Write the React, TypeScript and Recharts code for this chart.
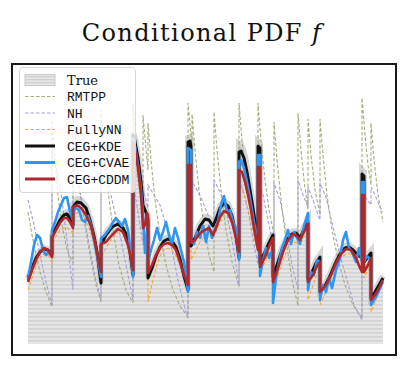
import React from "react";
import { ComposedChart, Line, Area, XAxis, YAxis } from "recharts";

// time t (arbitrary units), conditional density value v
type P = [number, number];

const trueCurve: P[] = [
  [0,0.66],[0.4,0.77],[0.8,0.87],[1.2,0.93],[1.6,0.96],[2.0,0.95],[2.4,0.91],
  [2.4,1.09],[2.8,1.18],[3.2,1.26],[3.6,1.31],[3.9,1.32],[4.2,1.28],[4.5,1.21],
  [4.5,1.40],[4.9,1.45],[5.3,1.44],[5.8,1.38],[6.2,1.26],[6.6,1.10],[6.9,0.94],[7.3,0.62],
  [7.3,1.01],[7.8,1.11],[8.4,1.19],[9.0,1.22],[9.5,1.18],[9.9,1.10],[10.2,0.94],[10.5,0.70],
  [10.5,2.12],[10.7,2.05],[11.0,1.89],[11.3,1.65],[11.5,1.42],[11.7,1.36],[11.9,1.31],[12.0,1.26],
  [12.0,0.67],[12.4,0.78],[12.8,0.90],[13.2,0.99],[13.6,1.05],[14.0,1.07],[14.4,1.05],[14.8,0.99],[15.2,0.87],[15.6,0.70],[16.0,0.55],
  [16.0,2.06],[16.2,2.07],[16.3,2.02],
  [16.3,1.00],[16.7,1.08],[17.2,1.20],[17.7,1.27],[18.1,1.26],[18.5,1.20],
  [18.8,1.27],[19.2,1.38],[19.6,1.43],[20.0,1.40],[20.4,1.30],[20.8,1.11],[21.1,0.88],
  [21.1,2.01],[21.3,2.00],[21.6,1.92],[21.9,1.77],[22.2,1.58],[22.5,1.39],[22.8,1.19],[23.0,1.08],
  [23.0,2.02],[23.2,2.00],
  [23.2,0.84],[23.6,0.92],[24.0,1.01],[24.5,1.11],
  [24.5,0.69],[24.9,0.81],[25.4,0.96],[25.9,1.06],[26.4,1.12],[26.8,1.13],[27.2,1.08],[27.6,1.17],[28.0,1.24],
  [28.0,0.66],[28.4,0.74],[28.8,0.83],[29.2,0.89],
  [29.2,0.54],[29.7,0.60],[30.2,0.70],[30.7,0.82],[31.2,0.92],[31.7,0.98],[32.1,0.99],[32.5,0.96],[33.0,0.91],[33.4,0.88],
  [33.4,1.74],[33.6,1.72],
  [33.6,0.84],[33.9,0.88],[34.3,0.93],
  [34.3,0.48],[34.7,0.54],[35.1,0.61],[35.5,0.68],
];

const rmtpp: P[] = [
  [0,1.32],[0.4,1.09],[0.8,0.89],[1.2,0.72],[1.8,0.52],[2.4,0.37],
  [2.4,2.24],[2.7,1.84],[3.0,1.49],[3.4,1.19],[3.9,0.94],[4.5,0.81],
  [4.5,2.34],[4.8,1.94],[5.2,1.54],[5.7,1.19],[6.2,0.89],[6.8,0.59],[7.3,0.42],
  [7.3,2.34],[7.6,1.94],[8.0,1.54],[8.5,1.14],[9.1,0.79],[9.8,0.54],[10.5,0.41],
  [10.5,2.41],[10.8,2.04],[11.1,1.69],[11.5,1.39],
  [11.5,2.29],[11.8,1.94],[12.0,1.74],
  [12.0,2.21],[12.3,1.84],[12.7,1.44],[13.2,1.09],[13.8,0.79],[14.5,0.54],[15.2,0.38],[16.0,0.27],
  [16.0,2.41],[16.2,2.19],[16.4,1.99],
  [16.4,2.30],[16.7,1.94],[17.1,1.54],[17.6,1.19],[18.1,0.89],[18.6,0.72],
  [18.6,2.32],[18.9,1.94],[19.3,1.54],[19.8,1.14],[20.4,0.82],[21.1,0.57],
  [21.1,2.41],[21.4,2.04],[21.8,1.64],[22.3,1.29],[22.7,1.09],[23.0,0.99],
  [23.0,2.41],[23.3,2.04],[23.7,1.64],[24.1,1.34],[24.6,1.09],
  [24.6,2.22],[24.9,1.84],[25.3,1.44],[25.8,1.04],[26.4,0.64],[27.0,0.38],
  [27.0,2.31],[27.3,1.94],[27.6,1.64],[28.0,1.34],
  [28.0,2.25],[28.3,1.89],[28.7,1.54],[29.2,1.29],
  [29.2,2.25],[29.5,1.89],[29.9,1.49],[30.4,1.14],[31.0,0.84],[31.7,0.59],[32.5,0.39],[33.4,0.26],
  [33.4,2.46],[33.7,2.09],[34.0,1.79],[34.3,1.59],
  [34.3,2.21],[34.6,1.84],[35.0,1.49],[35.5,1.22],
];

const nh: P[] = [
  [0,1.44],[0.6,1.19],[1.2,0.89],[1.8,0.62],[2.4,0.39],
  [2.4,1.94],[2.8,1.79],[3.4,1.44],[3.9,1.04],[4.5,0.54],
  [4.5,1.79],[5.0,1.59],[5.6,1.29],[6.2,0.94],[6.8,0.64],[7.3,0.44],
  [7.3,1.94],[7.8,1.74],[8.4,1.44],[9.2,1.09],[9.9,0.74],[10.5,0.44],
  [10.5,1.59],[10.8,1.44],[11.2,1.19],[11.5,0.99],
  [11.5,1.54],[11.8,1.44],[12.0,1.36],
  [12.0,1.59],[12.6,1.49],[13.2,1.39],[13.8,1.19],[14.4,0.94],[15.0,0.64],[15.6,0.39],[16.0,0.26],
  [16.0,1.69],[16.3,1.59],
  [16.3,1.64],[16.8,1.56],[17.4,1.44],[18.0,1.29],[18.6,1.09],
  [18.6,1.64],[19.2,1.52],[19.8,1.34],[20.4,1.04],[20.8,0.79],[21.1,0.59],
  [21.1,1.64],[21.5,1.54],[22.0,1.34],[22.5,1.04],[23.0,0.79],
  [23.0,1.64],[23.5,1.49],[24.0,1.24],[24.6,0.94],
  [24.6,1.61],[25.2,1.44],[25.8,1.14],[26.4,0.79],[27.0,0.54],
  [27.0,1.64],[27.5,1.49],[28.0,1.37],
  [28.0,1.57],[28.5,1.44],[28.9,1.32],[29.2,1.24],
  [29.2,1.61],[29.8,1.47],[30.5,1.17],[31.2,0.89],[31.9,0.64],[32.6,0.39],[33.4,0.24],
  [33.4,1.52],[33.8,1.46],[34.3,1.39],
  [34.3,1.57],[34.7,1.49],[35.2,1.37],[35.5,1.32],
];

const fullyNN: P[] = [
  [0,0.54],[0.4,0.66],[0.8,0.78],[1.2,0.86],[1.6,0.90],[2.0,0.89],[2.4,0.82],
  [2.4,0.99],[2.8,1.08],[3.2,1.14],[3.6,1.16],[4.0,1.16],[4.4,1.12],[4.5,1.09],
  [4.5,1.29],[5.0,1.32],[5.5,1.28],[6.0,1.19],[6.5,1.04],[6.9,0.86],[7.3,0.59],
  [7.3,0.86],[7.8,0.96],[8.4,1.06],[9.0,1.12],[9.5,1.11],[10.0,0.99],[10.5,0.82],
  [10.5,1.84],[10.8,1.74],[11.1,1.59],[11.4,1.39],[11.7,1.19],[12.0,1.09],
  [12.0,0.42],[12.4,0.60],[12.8,0.76],[13.2,0.88],[13.6,0.94],[14.0,0.96],[14.4,0.94],[14.8,0.88],[15.2,0.79],[15.6,0.68],[16.0,0.56],
  [16.0,1.69],[16.3,1.66],
  [16.3,0.84],[16.7,0.92],[17.2,1.02],[17.7,1.08],[18.1,1.10],[18.5,1.06],
  [18.8,1.12],[19.2,1.22],[19.6,1.29],[20.0,1.28],[20.4,1.19],[20.8,1.04],[21.1,0.90],
  [21.1,1.59],[21.4,1.56],[21.7,1.46],[22.0,1.34],[22.3,1.22],[22.6,1.06],[23.0,0.92],
  [23.0,1.64],[23.2,1.62],
  [23.2,0.72],[23.7,0.82],[24.2,0.94],[24.5,0.99],
  [24.5,0.54],[25.0,0.69],[25.5,0.84],[26.0,0.96],[26.5,1.02],[27.0,1.01],[27.5,1.06],[28.0,1.12],
  [28.0,0.44],[28.5,0.59],[28.9,0.70],[29.2,0.74],
  [29.2,0.39],[29.8,0.52],[30.3,0.64],[30.8,0.76],[31.3,0.86],[31.8,0.90],[32.3,0.90],[32.8,0.84],[33.2,0.76],[33.4,0.72],
  [33.4,1.34],[33.6,1.34],
  [33.6,0.66],[34.0,0.74],[34.3,0.79],
  [34.3,0.32],[34.7,0.42],[35.1,0.52],[35.5,0.59],
];

const cegKDE: P[] = [
  [0,0.66],[0.4,0.76],[0.8,0.86],[1.2,0.92],[1.6,0.95],[2.0,0.94],[2.4,0.90],
  [2.4,1.08],[2.8,1.16],[3.2,1.24],[3.6,1.29],[3.9,1.30],[4.2,1.26],[4.5,1.19],
  [4.5,1.37],[4.9,1.42],[5.3,1.41],[5.8,1.36],[6.2,1.24],[6.6,1.08],[6.9,0.92],[7.3,0.61],
  [7.3,0.99],[7.8,1.09],[8.4,1.17],[9.0,1.20],[9.5,1.16],[9.9,1.08],[10.2,0.92],[10.5,0.69],
  [10.5,2.09],[10.7,2.02],[11.0,1.86],[11.3,1.62],[11.5,1.39],[11.7,1.34],[11.9,1.29],[12.0,1.24],
  [12.0,0.66],[12.4,0.76],[12.8,0.88],[13.2,0.97],[13.6,1.03],[14.0,1.05],[14.4,1.03],[14.8,0.97],[15.2,0.85],[15.6,0.68],[16.0,0.54],
  [16.0,2.02],[16.2,2.03],[16.3,1.98],
  [16.3,0.98],[16.7,1.06],[17.2,1.18],[17.7,1.25],[18.1,1.24],[18.5,1.18],
  [18.8,1.25],[19.2,1.36],[19.6,1.41],[20.0,1.38],[20.4,1.28],[20.8,1.09],[21.1,0.86],
  [21.1,1.92],[21.3,1.93],[21.6,1.86],[21.9,1.72],[22.2,1.54],[22.5,1.36],[22.8,1.16],[23.0,1.06],
  [23.0,1.98],[23.2,1.96],
  [23.2,0.82],[23.6,0.90],[24.0,0.99],[24.5,1.09],
  [24.5,0.67],[24.9,0.79],[25.4,0.94],[25.9,1.04],[26.4,1.10],[26.8,1.11],[27.2,1.06],[27.6,1.15],[28.0,1.22],
  [28.0,0.64],[28.4,0.72],[28.8,0.81],[29.2,0.87],
  [29.2,0.52],[29.7,0.58],[30.2,0.68],[30.7,0.80],[31.2,0.90],[31.7,0.96],[32.1,0.97],[32.5,0.94],[33.0,0.89],[33.4,0.86],
  [33.4,1.70],[33.6,1.68],
  [33.6,0.82],[33.9,0.86],[34.3,0.91],
  [34.3,0.46],[34.7,0.52],[35.1,0.59],[35.5,0.66],
];

const cegCVAE: P[] = [
  [0,0.64],[0.3,0.82],[0.6,0.99],[0.9,1.09],[1.2,1.06],[1.5,0.94],[1.8,0.89],[2.1,0.92],[2.4,0.88],
  [2.4,1.14],[2.7,1.22],[3.0,1.32],[3.3,1.39],[3.6,1.46],[3.9,1.47],[4.2,1.32],[4.5,1.24],
  [4.5,1.32],[4.8,1.36],[5.1,1.34],[5.4,1.24],[5.7,1.22],[6.0,1.28],[6.3,1.19],[6.6,1.04],[6.9,0.89],[7.3,0.67],
  [7.3,1.06],[7.6,1.08],[7.9,1.12],[8.2,1.16],[8.5,1.22],[8.8,1.26],[9.1,1.22],[9.4,1.18],[9.7,1.25],[10.0,1.14],[10.3,0.89],[10.5,0.67],
  [10.5,2.06],[10.7,1.98],[11.0,1.79],[11.3,1.54],[11.5,1.29],[11.7,0.91],[11.9,1.12],[12.0,1.14],
  [12.0,0.82],[12.3,0.94],[12.6,1.04],[12.9,1.16],[13.2,1.04],[13.5,1.12],[13.8,1.22],[14.1,1.09],[14.4,1.00],[14.7,1.16],[15.0,1.06],[15.3,0.94],[15.6,0.82],[16.0,0.52],
  [16.0,1.96],[16.3,1.94],
  [16.3,1.04],[16.6,1.00],[16.9,1.12],[17.2,1.06],[17.5,1.18],[17.8,1.02],[18.1,1.18],[18.4,1.06],[18.7,1.14],
  [19.0,1.22],[19.3,1.39],[19.6,1.48],[19.9,1.32],[20.2,1.34],[20.5,1.22],[20.8,1.16],[21.1,0.84],
  [21.1,1.82],[21.3,1.84],[21.6,1.76],[21.9,1.62],[22.2,1.46],[22.5,1.28],[22.8,1.10],[23.0,0.99],
  [23.0,1.89],[23.2,1.89],
  [23.2,0.68],[23.5,0.84],[23.8,0.96],[24.1,0.86],[24.3,0.92],[24.5,0.92],
  [24.5,0.41],[24.8,0.66],[25.1,0.82],[25.4,0.96],[25.7,1.04],[26.0,1.14],[26.3,1.00],[26.6,1.12],[26.9,1.06],[27.2,1.00],[27.6,1.18],[28.0,1.31],
  [28.0,0.54],[28.3,0.72],[28.6,0.69],[28.9,0.84],[29.2,0.82],
  [29.2,0.44],[29.5,0.59],[29.8,0.52],[30.1,0.66],[30.4,0.56],[30.8,0.74],[31.2,0.86],[31.5,1.04],[31.8,1.12],[32.1,0.96],[32.4,0.92],[32.8,0.82],[33.1,0.96],[33.4,0.82],
  [33.4,1.62],[33.6,1.62],
  [33.6,0.82],[33.9,0.88],[34.3,0.84],
  [34.3,0.39],[34.6,0.44],[34.9,0.49],[35.2,0.56],[35.5,0.62],
];

const cegCDDM: P[] = [
  [0,0.62],[0.4,0.74],[0.8,0.84],[1.2,0.92],[1.6,0.96],[2.0,0.94],[2.4,0.87],
  [2.4,1.06],[2.8,1.14],[3.2,1.21],[3.6,1.26],[3.9,1.26],[4.2,1.22],[4.5,1.16],
  [4.5,1.37],[4.9,1.39],[5.3,1.36],[5.8,1.29],[6.3,1.18],[6.7,1.02],[7.0,0.86],[7.3,0.72],
  [7.3,1.00],[7.8,1.02],[8.4,1.09],[9.0,1.15],[9.5,1.12],[10.0,0.99],[10.3,0.86],[10.5,0.74],
  [10.5,2.02],[10.7,1.94],[11.0,1.76],[11.3,1.49],[11.5,1.16],[11.7,1.19],[11.9,1.31],[12.0,1.29],
  [12.0,0.71],[12.4,0.79],[12.8,0.89],[13.2,0.96],[13.6,1.00],[14.0,1.01],[14.4,0.99],[14.8,0.94],[15.2,0.82],[15.6,0.69],[16.0,0.59],
  [16.0,1.79],[16.3,1.79],
  [16.3,1.01],[16.7,1.04],[17.2,1.11],[17.7,1.14],[18.1,1.16],[18.5,1.09],
  [18.8,1.16],[19.2,1.27],[19.6,1.33],[20.0,1.31],[20.4,1.22],[20.8,1.06],[21.1,0.92],
  [21.1,1.74],[21.4,1.72],[21.7,1.62],[22.0,1.49],[22.3,1.34],[22.6,1.16],[22.9,0.99],[23.0,0.94],
  [23.0,1.77],[23.2,1.77],
  [23.2,0.77],[23.7,0.87],[24.2,1.00],[24.5,1.06],
  [24.5,0.62],[25.0,0.76],[25.5,0.92],[26.0,1.04],[26.5,1.10],[26.9,1.08],[27.2,1.04],[27.6,1.12],[28.0,1.20],
  [28.0,0.62],[28.5,0.69],[28.9,0.78],[29.2,0.82],
  [29.2,0.52],[29.8,0.59],[30.3,0.69],[30.8,0.81],[31.3,0.90],[31.8,0.95],[32.3,0.94],[32.8,0.86],[33.2,0.76],[33.4,0.72],
  [33.4,1.49],[33.6,1.49],
  [33.6,0.72],[34.0,0.79],[34.3,0.86],
  [34.3,0.44],[34.7,0.49],[35.1,0.56],[35.5,0.64],
];

const seriesNames = ["True", "RMTPP", "NH", "FullyNN", "CEG+KDE", "CEG+CVAE", "CEG+CDDM"];
const titleText = "Conditional PDF ";
const titleItalic = "f";

const X_DOMAIN: [number, number] = [-1.7, 36.9];
const Y_DOMAIN: [number, number] = [-0.12, 2.81];

const toPts = (arr: P[]) => arr.map(([t, v]) => ({ t, v }));

const C = {
  rmtpp: "#9fae78",
  nh: "#a79ce0",
  fully: "#f3a443",
  kde: "#111111",
  cvae: "#2e95f0",
  cddm: "#b0282c",
};

const dashed = [
  { name: seriesNames[1], data: rmtpp, color: C.rmtpp },
  { name: seriesNames[2], data: nh, color: C.nh },
  { name: seriesNames[3], data: fullyNN, color: C.fully },
];
const solid = [
  { name: seriesNames[4], data: cegKDE, color: C.kde, w: 3 },
  { name: seriesNames[5], data: cegCVAE, color: C.cvae, w: 2.6 },
  { name: seriesNames[6], data: cegCDDM, color: C.cddm, w: 2.6 },
];

function LegendBox() {
  const rows = [
    { label: seriesNames[0], kind: "true" },
    { label: seriesNames[1], kind: "dash", color: C.rmtpp },
    { label: seriesNames[2], kind: "dash", color: C.nh },
    { label: seriesNames[3], kind: "dash", color: C.fully },
    { label: seriesNames[4], kind: "solid", color: C.kde, w: 3 },
    { label: seriesNames[5], kind: "solid", color: C.cvae, w: 3 },
    { label: seriesNames[6], kind: "solid", color: C.cddm, w: 3 },
  ];
  return (
    <div
      style={{
        position: "absolute",
        left: 11,
        top: 59,
        width: 117,
        height: 126,
        border: "1px solid #d6d6d6",
        borderRadius: 4,
        background: "rgba(255,255,255,0.8)",
        boxSizing: "border-box",
      }}
    >
      <svg width={117} height={126} style={{ position: "absolute", left: -1, top: -1 }}>
        <defs>
          <pattern id="hatchL" patternUnits="userSpaceOnUse" width="6" height="3">
            <rect width="6" height="3" fill="#e6e6e6" />
            <rect width="6" height="1.3" fill="#cfcfcf" />
          </pattern>
        </defs>
        {rows.map((r, i) => {
          const cy = 13 + i * 16.5;
          return (
            <g key={r.label}>
              {r.kind === "true" && (
                <rect x={6} y={cy - 5.5} width={30} height={11} fill="url(#hatchL)" stroke="#c9c9c9" strokeWidth={1} />
              )}
              {r.kind === "dash" && (
                <line x1={6} x2={36} y1={cy} y2={cy} stroke={r.color} strokeWidth={1.2} strokeDasharray="3.5 2" />
              )}
              {r.kind === "solid" && (
                <line x1={6} x2={36} y1={cy} y2={cy} stroke={r.color} strokeWidth={r.w} />
              )}
              <text
                x={48}
                y={cy + 4.5}
                fontSize={13}
                fontFamily={r.kind === "true" ? "'DejaVu Serif', serif" : "'Liberation Mono', monospace"}
                fill="#111"
              >
                {r.label}
              </text>
            </g>
          );
        })}
      </svg>
    </div>
  );
}

export default function App() {
  return (
    <div style={{ position: "relative", width: 399, height: 360 }}>
      <div
        style={{
          position: "absolute",
          left: 0,
          top: 13,
          width: 388,
          textAlign: "center",
          fontFamily: "'DejaVu Serif', serif",
          fontSize: 24,
          letterSpacing: 1.4,
          lineHeight: "24px",
          color: "#111",
        }}
      >
        {titleText}
        <i>{titleItalic}</i>
      </div>
      <ComposedChart
        width={399}
        height={360}
        margin={{ top: 55, right: 10, bottom: 12, left: 3 }}
        style={{ position: "absolute", left: 0, top: 0 }}
      >
        <defs>
          <pattern id="hatchTrue" patternUnits="userSpaceOnUse" width="8" height="4">
            <rect width="8" height="4" fill="#e5e5e5" />
            <rect width="8" height="1.6" fill="#d2d2d2" />
          </pattern>
        </defs>
        <XAxis dataKey="t" type="number" domain={X_DOMAIN} allowDataOverflow hide />
        <YAxis type="number" domain={Y_DOMAIN} allowDataOverflow hide />
        <Area
          data={toPts(trueCurve)}
          dataKey="v"
          type="linear"
          baseValue={0}
          fill="url(#hatchTrue)"
          fillOpacity={1}
          stroke="#c4c4c4"
          strokeOpacity={0.7}
          strokeWidth={6}
          isAnimationActive={false}
          dot={false}
          activeDot={false}
        />
        {dashed.map((s) => (
          <Line
            key={s.name}
            data={toPts(s.data)}
            dataKey="v"
            name={s.name}
            type="linear"
            stroke={s.color}
            strokeWidth={1.1}
            strokeDasharray="3.5 2"
            dot={false}
            activeDot={false}
            isAnimationActive={false}
          />
        ))}
        {solid.map((s) => (
          <Line
            key={s.name}
            data={toPts(s.data)}
            dataKey="v"
            name={s.name}
            type="linear"
            stroke={s.color}
            strokeWidth={s.w}
            strokeLinejoin="round"
            dot={false}
            activeDot={false}
            isAnimationActive={false}
          />
        ))}
      </ComposedChart>
      <div
        style={{
          position: "absolute",
          left: 3,
          top: 55,
          width: 386,
          height: 293,
          border: "2px solid #1a1a1a",
          boxSizing: "border-box",
          pointerEvents: "none",
        }}
      />
      <LegendBox />
    </div>
  );
}
